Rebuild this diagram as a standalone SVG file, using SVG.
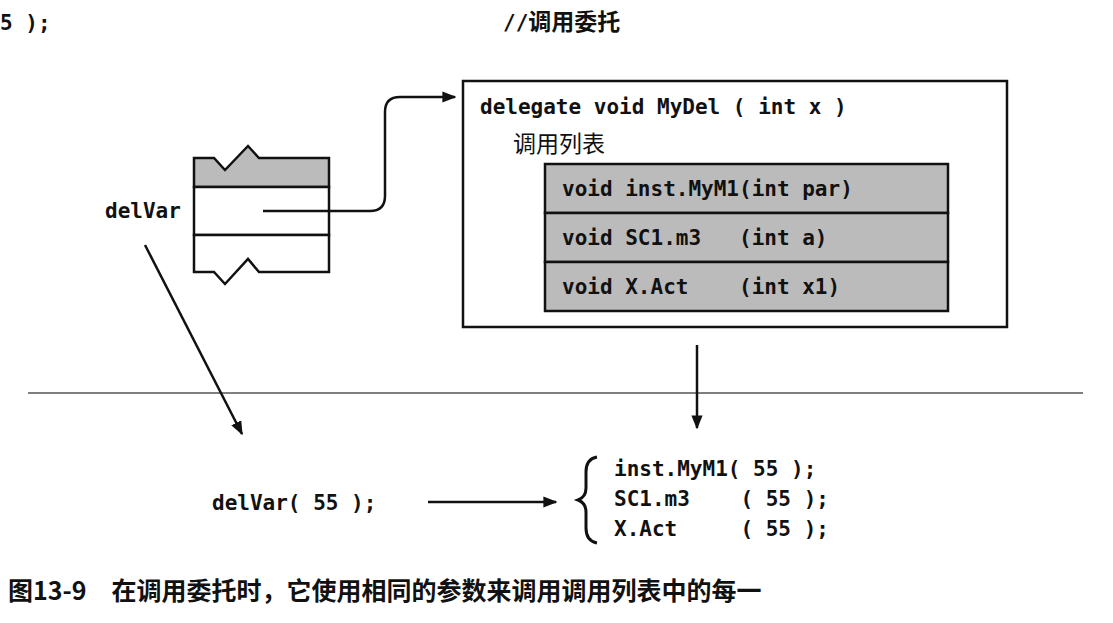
<svg xmlns="http://www.w3.org/2000/svg" width="1113" height="623" viewBox="0 0 1113 623">
<style>
.m{font-family:"DejaVu Sans Mono","Liberation Mono",monospace;font-size:21px;font-weight:bold;fill:#111;white-space:pre}
.c{font-family:"Noto Sans CJK SC",sans-serif;font-size:23px;fill:#111}
.ln{stroke:#111;stroke-width:2.5;fill:none}
</style>
<defs>
<marker id="b" viewBox="0 0 10 10" refX="9" refY="5" markerWidth="14" markerHeight="14" orient="auto" markerUnits="userSpaceOnUse"><path d="M0,1L10,5L0,9z" fill="#111"/></marker></defs>
<rect width="1113" height="623" fill="#fff"/>
<text class="m" x="0" y="30">5 );</text>
<text class="m" x="503" y="30">//<tspan class="c" style="font-weight:bold">调用委托</tspan></text>
<g id="stack">
<path d="M194,158 H214 L225,170 L248,146 L259,158 H329 V187 H194 Z" fill="#bbb" stroke="#111" stroke-width="2.5"/>
<rect x="194" y="187" width="135" height="48" fill="#fff" stroke="#111" stroke-width="2.5"/>
<path d="M194,235 H329 V272 H259 L248,259 L225,284 L214,272 H194 Z" fill="#fff" stroke="#111" stroke-width="2.5"/>
</g>
<text class="m" x="105" y="218">delVar</text>
<g id="delegate">
<rect x="463" y="81" width="544" height="246" fill="#fff" stroke="#111" stroke-width="2.5"/>
<text class="m" x="480" y="114" xml:space="preserve">delegate void MyDel ( int x )</text>
<text class="c" x="513" y="152">调用列表</text>
<rect x="545" y="164" width="403" height="49" fill="#bbb" stroke="#111" stroke-width="2.5"/>
<rect x="545" y="213" width="403" height="49" fill="#bbb" stroke="#111" stroke-width="2.5"/>
<rect x="545" y="262" width="403" height="49" fill="#bbb" stroke="#111" stroke-width="2.5"/>
<text class="m" x="562" y="196" xml:space="preserve">void inst.MyM1(int par)</text>
<text class="m" x="562" y="245" xml:space="preserve">void SC1.m3   (int a)</text>
<text class="m" x="562" y="294" xml:space="preserve">void X.Act    (int x1)</text>
</g>
<line x1="28" y1="393" x2="1083" y2="393" stroke="#555" stroke-width="1.5"/>
<g id="connectors">
<path class="ln" d="M263,211 H370 Q385,211 385,196 V112 Q385,97 400,97 H455" marker-end="url(#b)"/>
<line class="ln" x1="145" y1="245" x2="242" y2="434" marker-end="url(#b)"/>
<line class="ln" x1="697" y1="345" x2="697" y2="428" marker-end="url(#b)"/>
<line class="ln" x1="428" y1="502" x2="556" y2="502" marker-end="url(#b)"/>
</g>
<text class="m" x="212" y="510" xml:space="preserve">delVar( 55 );</text>
<path d="M597,457 Q586,459 586,472 V488 Q586,497 578,500 Q586,503 586,512 V528 Q586,541 597,543" fill="none" stroke="#111" stroke-width="3"/>
<text class="m" x="614" y="476" xml:space="preserve">inst.MyM1( 55 );</text>
<text class="m" x="614" y="506" xml:space="preserve">SC1.m3    ( 55 );</text>
<text class="m" x="614" y="536" xml:space="preserve">X.Act     ( 55 );</text>
<text x="8" y="600" style="font-family:'Noto Sans CJK SC',sans-serif;font-size:25px;font-weight:bold;fill:#111">图13-9　在调用委托时，它使用相同的参数来调用调用列表中的每一</text>
</svg>
